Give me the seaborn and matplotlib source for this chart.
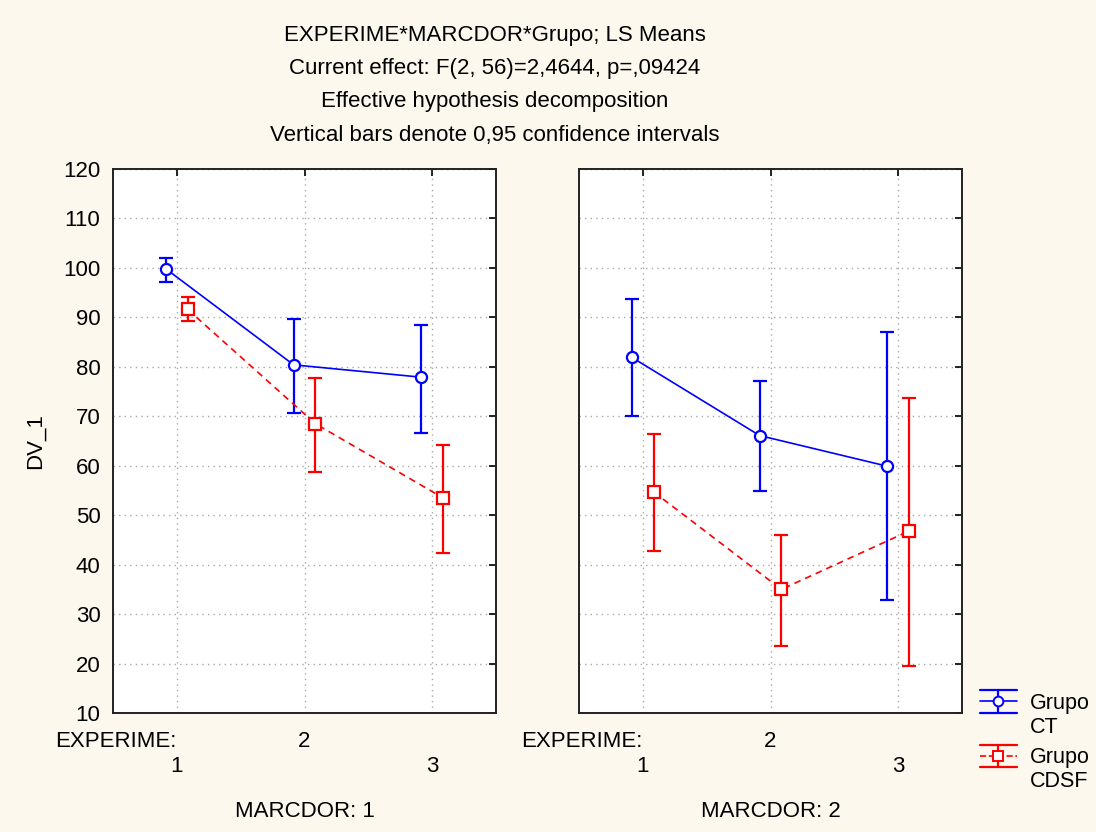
import numpy as np
import pandas as pd
import matplotlib
matplotlib.use('Agg')
import matplotlib.pyplot as plt
import matplotlib.transforms as mtransforms
import seaborn as sns
from matplotlib.lines import Line2D
from matplotlib.legend_handler import HandlerBase

# levels
experime = [1, 2, 3]
marcdor = [1, 2]
grupos = ['CT', 'CDSF']

# LS means with 0.95 CI bounds
ct_mean_m1 = [99.8, 80.4, 77.9]
ct_lo_m1 = [97.1, 70.7, 66.6]
ct_hi_m1 = [102.1, 89.7, 88.5]
cdsf_mean_m1 = [91.6, 68.5, 53.5]
cdsf_lo_m1 = [89.2, 58.7, 42.3]
cdsf_hi_m1 = [94.1, 77.7, 64.2]

ct_mean_m2 = [81.9, 66.1, 59.9]
ct_lo_m2 = [70.1, 54.8, 32.8]
ct_hi_m2 = [93.8, 77.1, 87.0]
cdsf_mean_m2 = [54.7, 35.0, 46.8]
cdsf_lo_m2 = [42.8, 23.6, 19.5]
cdsf_hi_m2 = [66.5, 45.9, 73.6]

title_lines = [
    'EXPERIME*MARCDOR*Grupo; LS Means',
    'Current effect: F(2, 56)=2,4644, p=,09424',
    'Effective hypothesis decomposition',
    'Vertical bars denote 0,95 confidence intervals',
]

BG = '#FDF8EE'
FS = 16
colors = {'CT': '#0000FF', 'CDSF': '#FF0000'}
markers = {'CT': 'o', 'CDSF': 's'}
lstyles = {'CT': '-', 'CDSF': (0, (4, 3))}
msizes = {'CT': 8, 'CDSF': 8}
offsets = {'CT': -0.085, 'CDSF': 0.085}


def build_frame():
    rows = []
    table = {
        (1, 'CT'): (ct_mean_m1, ct_lo_m1, ct_hi_m1),
        (1, 'CDSF'): (cdsf_mean_m1, cdsf_lo_m1, cdsf_hi_m1),
        (2, 'CT'): (ct_mean_m2, ct_lo_m2, ct_hi_m2),
        (2, 'CDSF'): (cdsf_mean_m2, cdsf_lo_m2, cdsf_hi_m2),
    }
    for (m, g), (mean, lo, hi) in table.items():
        for e, mu, l, h in zip(experime, mean, lo, hi):
            rows.append(dict(marcdor=m, grupo=g, experime=e, mean=mu, lo=l, hi=h))
    return pd.DataFrame(rows)


class HandlerCI(HandlerBase):
    """Legend key: line + marker + vertical bar with wide caps, raised to the first text line."""

    def create_artists(self, legend, orig_handle, xdescent, ydescent, width,
                       height, fontsize, trans):
        c = orig_handle.get_color()
        x0, x1 = -xdescent, width - xdescent
        xm = (x0 + x1) / 2
        yc = height / 2 - ydescent + 10.5
        h = 8
        line = Line2D([x0, x1], [yc, yc], color=c,
                      linestyle=orig_handle.get_linestyle(), linewidth=1.2)
        bar = Line2D([xm, xm], [yc - h, yc + h], color=c, linewidth=1.6)
        cap_top = Line2D([x0, x1], [yc + h, yc + h], color=c, linewidth=1.6)
        cap_bot = Line2D([x0, x1], [yc - h, yc - h], color=c, linewidth=1.6)
        mk = Line2D([xm], [yc], linestyle='none', marker=orig_handle.get_marker(),
                    markersize=orig_handle.get_markersize(),
                    markerfacecolor='white', markeredgecolor=c,
                    markeredgewidth=1.4)
        arts = [line, bar, cap_top, cap_bot, mk]
        for a in arts:
            a.set_transform(trans)
        return arts


df = build_frame()
df['xpos'] = df['experime'] + df['grupo'].map(offsets)

sns.set_theme(style='white')
plt.rcParams['font.family'] = ['Liberation Sans', 'DejaVu Sans']
plt.rcParams['text.color'] = 'black'
plt.rcParams['axes.labelcolor'] = 'black'
plt.rcParams['xtick.color'] = 'black'
plt.rcParams['ytick.color'] = 'black'

W, H = 1096, 832
fig = plt.figure(figsize=(W / 100, H / 100), dpi=100, facecolor=BG)

axes = []
for left in (113, 579):
    axes.append(fig.add_axes([left / W, 1 - 713 / H, 383 / W, 544 / H]))

for ax, m in zip(axes, marcdor):
    ax.set_facecolor('white')
    sub = df[df['marcdor'] == m]
    for g in grupos:
        d = sub[sub['grupo'] == g]
        c = colors[g]
        sns.lineplot(data=d, x='xpos', y='mean', ax=ax, color=c, sort=False,
                     errorbar=None, legend=False, marker=markers[g],
                     linestyle=lstyles[g], linewidth=1.2,
                     markersize=msizes[g], markerfacecolor='white',
                     markeredgecolor=c, markeredgewidth=1.6, zorder=4)
        ax.errorbar(d['xpos'], d['mean'],
                    yerr=[d['mean'] - d['lo'], d['hi'] - d['mean']],
                    fmt='none', ecolor=c, elinewidth=1.6, capsize=5,
                    capthick=1.6, zorder=3)

    ax.set_xlim(0.5, 3.5)
    ax.set_ylim(10, 120)
    ax.set_yticks(range(10, 121, 10))
    # staggered category labels: 2 on the first row, 1 and 3 on the second
    ax.set_xticks([1, 3])
    ax.set_xticklabels(['1', '3'])
    ax.set_xticks([2], minor=True)
    ax.set_xticklabels(['2'], minor=True)
    ax.grid(True, which='both', linestyle=(0, (1, 3)), color='#a8a8a8', linewidth=1)
    ax.tick_params(which='both', direction='in', length=5, width=1.2, top=True,
                   right=True, labelsize=FS)
    ax.tick_params(axis='x', which='minor', pad=13)
    ax.tick_params(axis='x', which='major', pad=31)
    ax.tick_params(axis='y', pad=9)
    for s in ax.spines.values():
        s.set_color('#222222')
        s.set_linewidth(1.4)
    ax.set_xlabel(f'MARCDOR: {m}', fontsize=FS, va='top')
    ax.xaxis.set_label_coords(0.5, (713 - 801) / 544)
    ax.set_ylabel('')
    trans = mtransforms.blended_transform_factory(ax.transData, ax.transAxes)
    trans = trans + mtransforms.ScaledTranslation(0, -13 / 72, fig.dpi_scale_trans)
    ax.text(1.0, 0, 'EXPERIME:', transform=trans, ha='right', va='top',
            fontsize=FS)

axes[1].tick_params(labelleft=False)

fig.text(35 / W, 1 - 441 / H, 'DV_1', rotation=90, ha='center', va='center',
         fontsize=FS)

for i, line in enumerate(title_lines):
    fig.text(495 / W, 1 - (35 + 33.5 * i) / H, line, ha='center', va='center',
             fontsize=FS)

handles = []
for g in grupos:
    handles.append(Line2D([], [], color=colors[g], linestyle=lstyles[g],
                          marker=markers[g], markersize=7))

fig.legend(handles, [f'Grupo\n{g}' for g in grupos],
           handler_map={Line2D: HandlerCI()},
           loc='upper left', bbox_to_anchor=(980 / W, 1 - 693 / H),
           frameon=False, fontsize=15.5, handlelength=1.7, handletextpad=0.6,
           labelspacing=0.42, borderaxespad=0, borderpad=0)

fig.savefig('out.png', dpi=100, facecolor=BG)
